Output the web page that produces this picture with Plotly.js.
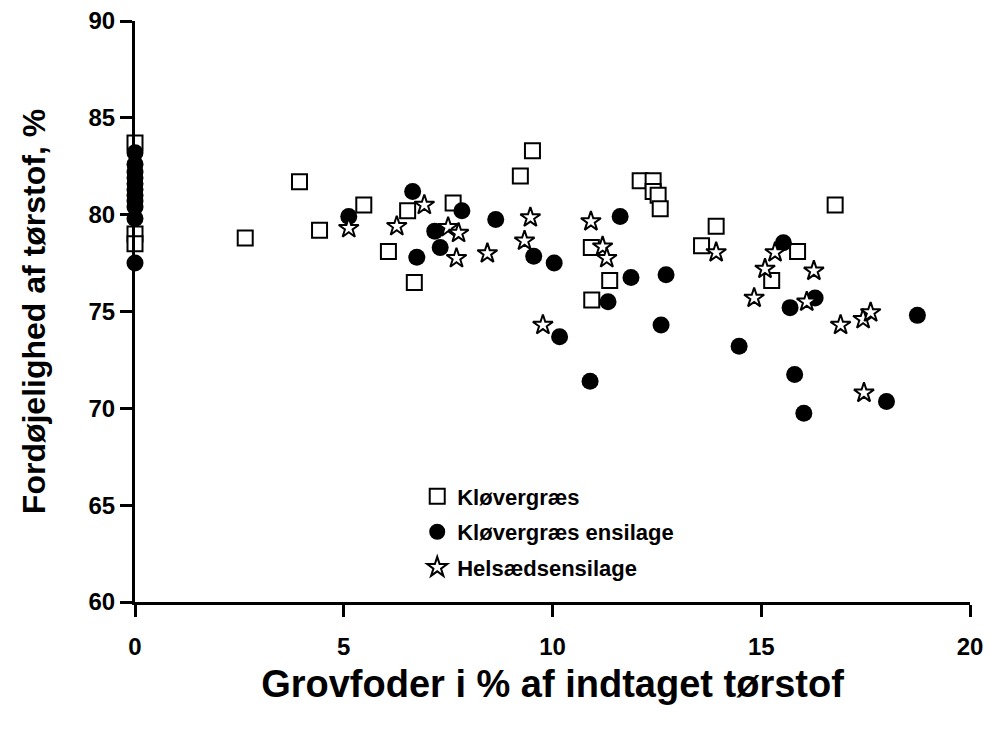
<!DOCTYPE html>
<html>
<head>
<meta charset="utf-8">
<script src="https://cdn.plot.ly/plotly-3.0.1.min.js"></script>
<style>html,body{margin:0;padding:0;background:#fff;}#chart{width:990px;height:731px;}</style>
</head>
<body>
<div id="chart"></div>
<script>
// Kløvergræs (open squares)
var kgX = [0, 0, 0, 2.64, 3.94, 4.42, 5.48, 6.07, 6.53, 6.69, 7.62, 9.23, 9.52, 10.93, 10.94, 11.37, 12.1, 12.41, 12.41, 12.53, 12.58, 13.57, 13.92, 15.25, 15.87, 16.77];
var kgY = [83.7, 79.0, 78.5, 78.8, 81.7, 79.2, 80.5, 78.1, 80.2, 76.5, 80.6, 82.0, 83.3, 78.3, 75.6, 76.6, 81.75, 81.75, 81.2, 81.0, 80.3, 78.4, 79.4, 76.6, 78.1, 80.5];

// Kløvergræs ensilage (filled circles)
var keX = [0, 0, 0, 0, 0, 0, 0, 0, 0, 0, 0, 5.12, 6.65, 6.75, 7.18, 7.31, 7.83, 8.64, 9.55, 10.04, 10.17, 10.9, 11.33, 11.62, 11.88, 12.6, 12.72, 14.47, 15.53, 15.69, 15.8, 16.02, 16.29, 18.0, 18.74];
var keY = [83.2, 82.6, 82.2, 81.9, 81.6, 81.3, 81.0, 80.7, 80.4, 79.8, 77.5, 79.9, 81.2, 77.8, 79.15, 78.3, 80.2, 79.75, 77.85, 77.5, 73.7, 71.4, 75.5, 79.9, 76.75, 74.3, 76.9, 73.2, 78.55, 75.2, 71.75, 69.75, 75.7, 70.35, 74.8];

// Helsædsensilage (stars)
var hsX = [5.12, 6.27, 6.93, 7.50, 7.70, 7.75, 8.44, 9.33, 9.47, 9.77, 10.92, 11.2, 11.3, 13.92, 14.83, 15.09, 15.33, 16.09, 16.26, 16.9, 17.44, 17.62, 17.46];
var hsY = [79.3, 79.4, 80.5, 79.35, 77.75, 79.05, 78.0, 78.65, 79.85, 74.3, 79.65, 78.35, 77.75, 78.05, 75.7, 77.2, 78.05, 75.5, 77.1, 74.3, 74.6, 74.95, 70.8];

var xTicks = [0, 5, 10, 15, 20];
var yTicks = [60, 65, 70, 75, 80, 85, 90];

var FONT = 'Liberation Sans, Arial, sans-serif';

var traces = [
  {x: kgX, y: kgY, name: 'Kløvergræs', legendgroup: 'a', type: 'scatter', mode: 'markers', cliponaxis: false,
   marker: {symbol: 'square', size: 15, color: '#ffffff', line: {color: '#000000', width: 2}}},
  {x: keX, y: keY, name: 'Kløvergræs ensilage', legendgroup: 'b', type: 'scatter', mode: 'markers', cliponaxis: false,
   marker: {symbol: 'circle', size: 17, color: '#000000', line: {color: '#000000', width: 0}}},
  {x: hsX, y: hsY, name: 'Helsædsensilage', legendgroup: 'c', type: 'scatter', mode: 'markers', cliponaxis: false,
   marker: {symbol: 'star', size: 15, color: '#ffffff', line: {color: '#000000', width: 2}}}
];

var layout = {
  width: 990, height: 731,
  paper_bgcolor: '#ffffff', plot_bgcolor: '#ffffff',
  margin: {l: 135, r: 20, t: 21, b: 129},
  font: {family: FONT, color: '#000000'},
  showlegend: true,
  legend: {x: 0.338, y: 0.218, xanchor: 'left', yanchor: 'top', bgcolor: 'rgba(0,0,0,0)',
           font: {family: FONT, size: 22, color: '#000000', weight: 'bold'}, itemsizing: 'trace',
           traceorder: 'grouped', tracegroupgap: 4},
  xaxis: {range: [0, 20], tickvals: xTicks, ticktext: xTicks.map(String), showgrid: false, zeroline: false,
          showline: true, linecolor: '#000000', linewidth: 3, ticks: 'outside', ticklen: 12, tickwidth: 3, tickcolor: '#000000',
          ticklabelstandoff: 9,
          tickfont: {family: FONT, size: 24, color: '#000000', weight: 'bold'},
          title: {text: 'Grovfoder i % af indtaget tørstof', font: {family: FONT, size: 38, color: '#000000', weight: 'bold'}, standoff: 12}},
  yaxis: {range: [60, 90], tickvals: yTicks, ticktext: yTicks.map(String), showgrid: false, zeroline: false,
          showline: true, linecolor: '#000000', linewidth: 3, ticks: 'outside', ticklen: 12, tickwidth: 3, tickcolor: '#000000',
          ticklabelstandoff: 0,
          tickfont: {family: FONT, size: 24, color: '#000000', weight: 'bold'},
          title: {text: 'Fordøjelighed af tørstof, %', font: {family: FONT, size: 32, color: '#000000', weight: 'bold'}, standoff: 34}}
};

Plotly.newPlot('chart', traces, layout, {staticPlot: true, displayModeBar: false});
</script>
</body>
</html>
